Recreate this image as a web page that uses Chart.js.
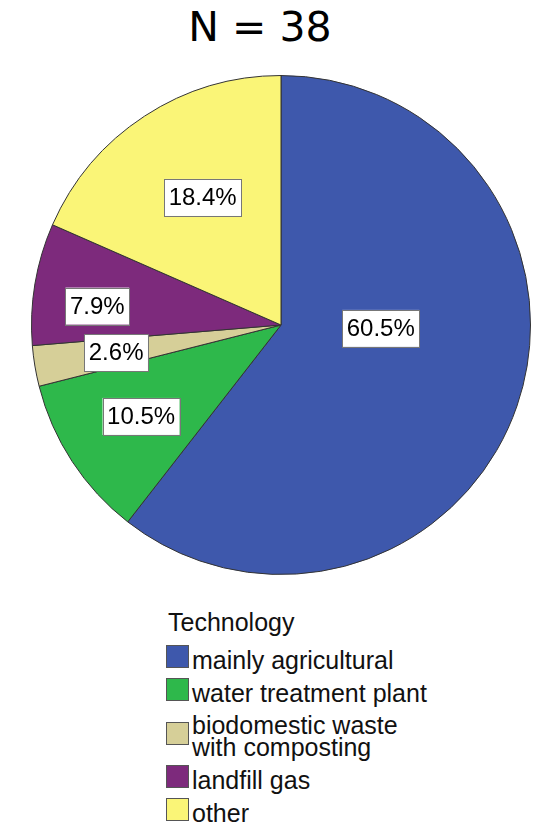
<!DOCTYPE html>
<html>
<head>
<meta charset="utf-8">
<script src="https://cdn.jsdelivr.net/npm/chart.js@4"></script>
<style>
  body { margin: 0; background: #fff; width: 535px; height: 826px; position: relative; overflow: hidden; }
  #title { position: absolute; left: 0; width: 520px; top: 0; text-align: center;
           font-family: "DejaVu Sans", sans-serif; font-size: 41px; line-height: 54px; color: #000; }
  #wrap { position: absolute; left: 0; top: 0; width: 535px; height: 600px; }
  #legend { position: absolute; left: 166px; top: 606px; font-family: "Liberation Sans", Arial, sans-serif; color: #111; }
  #legend .head { font-size: 25px; line-height: 32px; margin-left: 2px; }
  #legend .row { display: flex; align-items: center; margin-top: 10px; font-size: 25px; line-height: 22px; }
  #legend .row:first-of-type { margin-top: 0; }
  #legend .box { width: 21px; height: 21px; border: 1px solid #555; margin-right: 3px; flex: none; transform: translateY(-3px); }
</style>
</head>
<body>
<div id="title">N = 38</div>
<div id="wrap"><canvas id="pieChart"></canvas></div>
<div id="legend"></div>
<script>
// --- dados ---
const legendTitle = 'Technology';
const categories = ['mainly agricultural', 'water treatment plant', ['biodomestic waste', 'with composting'], 'landfill gas', 'other'];
const counts = [23, 4, 1, 3, 7];
const percentLabels = ['60.5%', '10.5%', '2.6%', '7.9%', '18.4%'];

// cores das fatias
const sliceColors = ['#3E58AC', '#2EB84B', '#D6CF98', '#7D2A7C', '#FAF577'];

// posição das etiquetas: fração do raio e desvio angular (graus)
const labelRadius = [0.40, 0.67, 0.67, 0.74, 0.60];
const labelShift = [-17, 0, 0, -3.6, 1.6];

// plugin: caixas brancas com a percentagem
const boxLabels = {
    id: 'boxLabels',
    afterDatasetsDraw(chart) {
        const ctx = chart.ctx;
        const arcs = chart.getDatasetMeta(0).data;
        ctx.save();
        ctx.font = '24px "Liberation Sans", Arial, sans-serif';
        ctx.textAlign = 'center';
        ctx.textBaseline = 'middle';
        arcs.forEach((arc, i) => {
            const mid = (arc.startAngle + arc.endAngle) / 2 + labelShift[i] * Math.PI / 180;
            const r = arc.outerRadius * labelRadius[i];
            const x = arc.x + Math.cos(mid) * r;
            const y = arc.y + Math.sin(mid) * r;
            const w = ctx.measureText(percentLabels[i]).width + 9;
            const h = 37;
            ctx.fillStyle = '#FFFFFF';
            ctx.fillRect(x - w / 2, y - h / 2, w, h);
            ctx.strokeStyle = '#777';
            ctx.lineWidth = 1;
            ctx.strokeRect(Math.round(x - w / 2) + 0.5, Math.round(y - h / 2) + 0.5, Math.round(w), h);
            ctx.fillStyle = '#000';
            ctx.fillText(percentLabels[i], x, y + 1);
        });
        ctx.restore();
    }
};

new Chart(document.getElementById('pieChart'), {
    type: 'pie',
    data: {
        labels: categories,
        datasets: [{
            data: counts,
            backgroundColor: sliceColors,
            borderColor: '#333333',
            borderWidth: 1
        }]
    },
    options: {
        responsive: true,
        maintainAspectRatio: false,
        animation: false,
        layout: { padding: { left: 31, right: 4, top: 75, bottom: 25 } },
        plugins: {
            legend: { display: false },
            tooltip: { enabled: false },
            title: { display: false }
        }
    },
    plugins: [boxLabels]
});

// legenda em HTML
const legend = document.getElementById('legend');
const head = document.createElement('div');
head.className = 'head';
head.textContent = legendTitle;
legend.appendChild(head);
categories.forEach((cat, i) => {
    const row = document.createElement('div');
    row.className = 'row';
    const box = document.createElement('span');
    box.className = 'box';
    box.style.background = sliceColors[i];
    const txt = document.createElement('span');
    txt.innerHTML = Array.isArray(cat) ? cat.join('<br>') : cat;
    row.appendChild(box);
    row.appendChild(txt);
    legend.appendChild(row);
});
</script>
</body>
</html>
